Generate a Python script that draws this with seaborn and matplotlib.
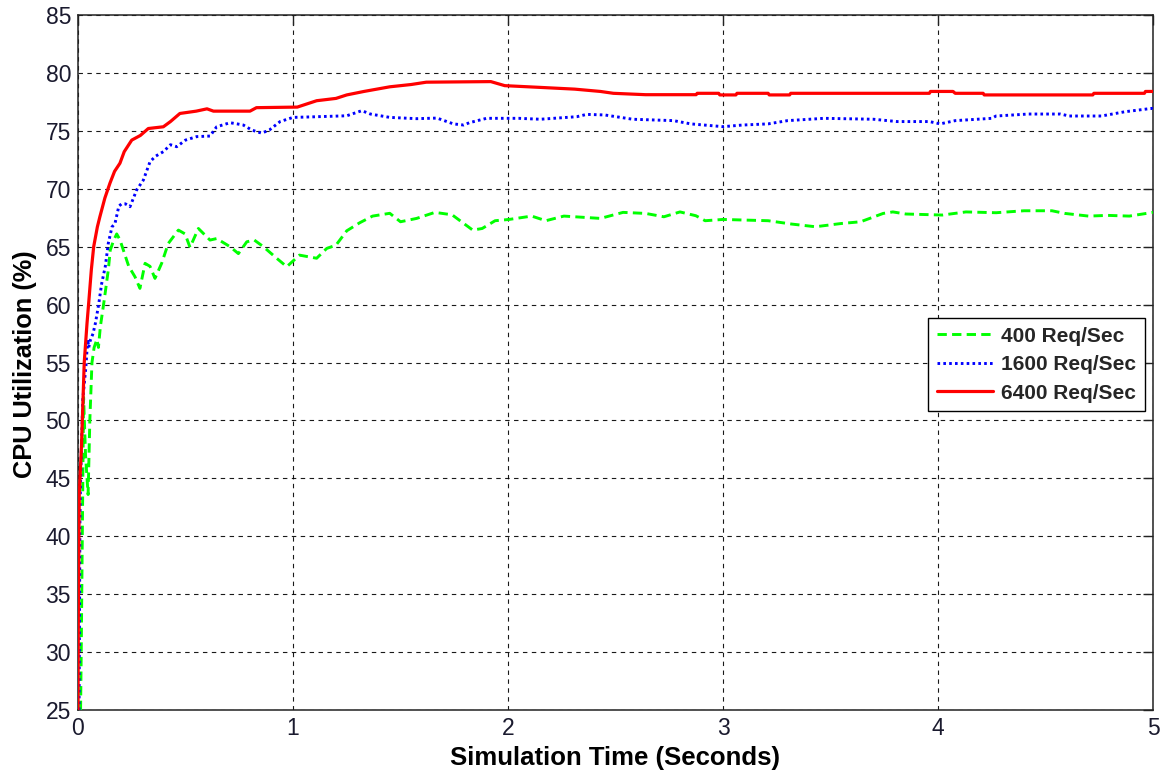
import matplotlib
matplotlib.use("Agg")
import matplotlib.pyplot as plt
import seaborn as sns
import pandas as pd

# ---- data ----
t_400 = [0.012, 0.015, 0.02, 0.026, 0.035, 0.047, 0.055, 0.065, 0.075, 0.088, 0.095, 0.104,
         0.122, 0.141, 0.15, 0.165, 0.18, 0.195, 0.211, 0.236, 0.265, 0.288, 0.312, 0.335,
         0.358, 0.389, 0.42, 0.467, 0.498, 0.521, 0.56, 0.614, 0.645, 0.707, 0.746, 0.785,
         0.82, 0.862, 0.924, 0.971, 1.03, 1.11, 1.157, 1.2, 1.25, 1.31, 1.37, 1.45, 1.5,
         1.575, 1.66, 1.74, 1.836, 1.88, 1.94, 2.005, 2.11, 2.176, 2.26, 2.43, 2.535, 2.64,
         2.725, 2.8, 2.874, 2.917, 3.0, 3.21, 3.32, 3.43, 3.55, 3.64, 3.745, 3.79, 3.85,
         4.02, 4.13, 4.27, 4.40, 4.53, 4.59, 4.70, 4.79, 4.89, 5.0]
cpu_400 = [25, 30, 40, 52, 47, 43.6, 50, 55, 56.3, 57.0, 56.3, 58.1,
           60.4, 63.0, 64.7, 65.5, 66.1, 65.6, 64.7, 63.3, 62.4, 61.4, 63.56, 63.3,
           62.26, 63.56, 65.28, 66.43, 66.1, 64.94, 66.57, 65.57, 65.7, 65.0, 64.4, 65.42,
           65.57, 65.0, 64.0, 63.27, 64.27, 64.0, 64.85, 65.13, 66.37, 67.06, 67.64, 67.88, 67.15,
           67.44, 67.96, 67.75, 66.43, 66.57, 67.24, 67.35, 67.64, 67.24, 67.64, 67.44, 67.96, 67.87,
           67.58, 68.0, 67.67, 67.24, 67.35, 67.24, 66.95, 66.72, 67.0, 67.15, 67.87, 68.0, 67.82,
           67.73, 68.0, 67.93, 68.1, 68.1, 67.87, 67.64, 67.7, 67.64, 67.96]

t_1600 = [0.005, 0.009, 0.012, 0.022, 0.037, 0.045, 0.05, 0.057, 0.07, 0.081, 0.096, 0.11,
          0.127, 0.141, 0.158, 0.172, 0.19, 0.203, 0.22, 0.242, 0.273, 0.304, 0.335, 0.36,
          0.397, 0.43, 0.459, 0.5, 0.552, 0.614, 0.645, 0.707, 0.74, 0.769, 0.808, 0.854,
          0.89, 0.94, 1.0, 1.08, 1.25, 1.32, 1.36, 1.45, 1.575, 1.67, 1.746, 1.794, 1.82,
          1.9, 2.05, 2.15, 2.32, 2.366, 2.45, 2.58, 2.77, 2.85, 3.0, 3.09, 3.21, 3.30, 3.47,
          3.70, 3.81, 3.96, 4.01, 4.08, 4.25, 4.27, 4.42, 4.57, 4.61, 4.76, 4.87, 4.995, 5.0]
cpu_1600 = [25, 41.4, 44.8, 51.75, 54.7, 57.0, 56.3, 56.9, 57.5, 58.4, 60.0, 61.8,
            63.3, 65.3, 66.7, 67.0, 68.5, 68.7, 68.7, 68.45, 69.9, 70.75, 72.33, 72.8,
            73.2, 73.8, 73.63, 74.2, 74.5, 74.55, 75.35, 75.7, 75.6, 75.5, 75.07, 74.8,
            75.07, 75.8, 76.16, 76.2, 76.3, 76.74, 76.45, 76.16, 76.05, 76.1, 75.6, 75.5, 75.7,
            76.08, 76.08, 76.0, 76.22, 76.42, 76.37, 76.0, 75.88, 75.6, 75.36, 75.5, 75.6, 75.88, 76.08,
            76.0, 75.8, 75.8, 75.6, 75.88, 76.08, 76.28, 76.45, 76.45, 76.28, 76.28, 76.65, 76.94, 76.75]

t_6400 = [0.0, 0.002, 0.005, 0.006, 0.016, 0.029, 0.042, 0.05, 0.062, 0.073, 0.09, 0.102,
          0.125, 0.149, 0.17, 0.195, 0.215, 0.25, 0.29, 0.327, 0.397, 0.43, 0.474, 0.55,
          0.6, 0.63, 0.8, 0.83, 1.02, 1.11, 1.2, 1.25, 1.33, 1.45, 1.55, 1.62, 1.92, 1.985,
          2.15, 2.31, 2.43, 2.49, 2.64, 2.875, 2.88, 2.98, 2.985, 3.06, 3.065, 3.21, 3.215,
          3.31, 3.315, 3.96, 3.965, 4.07, 4.08, 4.21, 4.215, 4.72, 4.725, 4.96, 4.965, 5.0]
cpu_6400 = [25, 35, 41.5, 43.7, 47.7, 55, 58.4, 60.2, 63, 65, 66.7, 67.6,
            69.2, 70.5, 71.5, 72.2, 73.2, 74.2, 74.6, 75.2, 75.35, 75.8, 76.5, 76.7,
            76.9, 76.7, 76.7, 77.0, 77.05, 77.6, 77.8, 78.1, 78.4, 78.8, 79.0, 79.2, 79.25, 78.9,
            78.75, 78.6, 78.4, 78.24, 78.12, 78.12, 78.24, 78.24, 78.1, 78.1, 78.24, 78.24, 78.1,
            78.1, 78.24, 78.24, 78.4, 78.4, 78.24, 78.24, 78.1, 78.1, 78.24, 78.24, 78.4, 78.4]

series_labels = ["400 Req/Sec", "1600 Req/Sec", "6400 Req/Sec"]
x_ticks = [0, 1, 2, 3, 4, 5]
y_ticks = [25, 30, 35, 40, 45, 50, 55, 60, 65, 70, 75, 80, 85]
x_label = "Simulation Time (Seconds)"
y_label = "CPU Utilization (%)"

# ---- styling ----
sns.set_style("white")
plt.rcParams['font.family'] = ['Liberation Sans', 'DejaVu Sans']

fig = plt.figure(figsize=(11.7, 7.74), dpi=100)
ax = fig.add_axes([78/1170, 1 - 710/774, (1153-78)/1170, (710-15)/774])

specs = [
    (t_400, cpu_400, series_labels[0], "#00ff00", 2.1, (0, (3.2, 1.8))),
    (t_1600, cpu_1600, series_labels[1], "#0000ff", 2.1, (0, (0.9, 1.1))),
    (t_6400, cpu_6400, series_labels[2], "#ff0000", 2.3, "-"),
]
for tx, vy, lab, col, lw, ls in specs:
    df = pd.DataFrame({"t": tx, "v": vy})
    sns.lineplot(data=df, x="t", y="v", ax=ax, color=col, linewidth=lw,
                 sort=False, estimator=None, label=lab)
    ax.lines[-1].set_linestyle(ls)
    ax.lines[-1].set_zorder(3)

ax.set_xlim(0, 5)
ax.set_ylim(25, 85)
ax.set_xticks(x_ticks)
ax.set_yticks(y_ticks)
ax.set_xticklabels([str(v) for v in x_ticks])
ax.set_yticklabels([str(v) for v in y_ticks])

ax.set_axisbelow(True)
ax.grid(True, color="black", linestyle=(0, (4, 4)), linewidth=0.8, alpha=0.9)

for s in ax.spines.values():
    s.set_visible(True)
    s.set_color("#222222")
    s.set_linewidth(1.1)

ax.tick_params(axis="both", which="both", direction="in", length=7, width=1.0,
               top=True, right=True, labelsize=16.5, colors="#222222",
               labelcolor="#1a1a2e", pad=5)

ax.set_xlabel(x_label, fontsize=18.5, fontweight="bold", color="black", labelpad=4)
ax.set_ylabel(y_label, fontsize=18.3, fontweight="bold", color="black")
ax.yaxis.set_label_coords(-0.038, 0.497)

leg = ax.legend(loc="upper right", bbox_to_anchor=(0.9926, 0.564), borderaxespad=0,
                fancybox=False, framealpha=1, edgecolor="black",
                prop={"size": 15, "weight": "bold"}, handlelength=2.7,
                handletextpad=0.4, labelspacing=0.45, borderpad=0.42)
leg.get_frame().set_linewidth(1.0)

fig.savefig("out.png", dpi=100)
